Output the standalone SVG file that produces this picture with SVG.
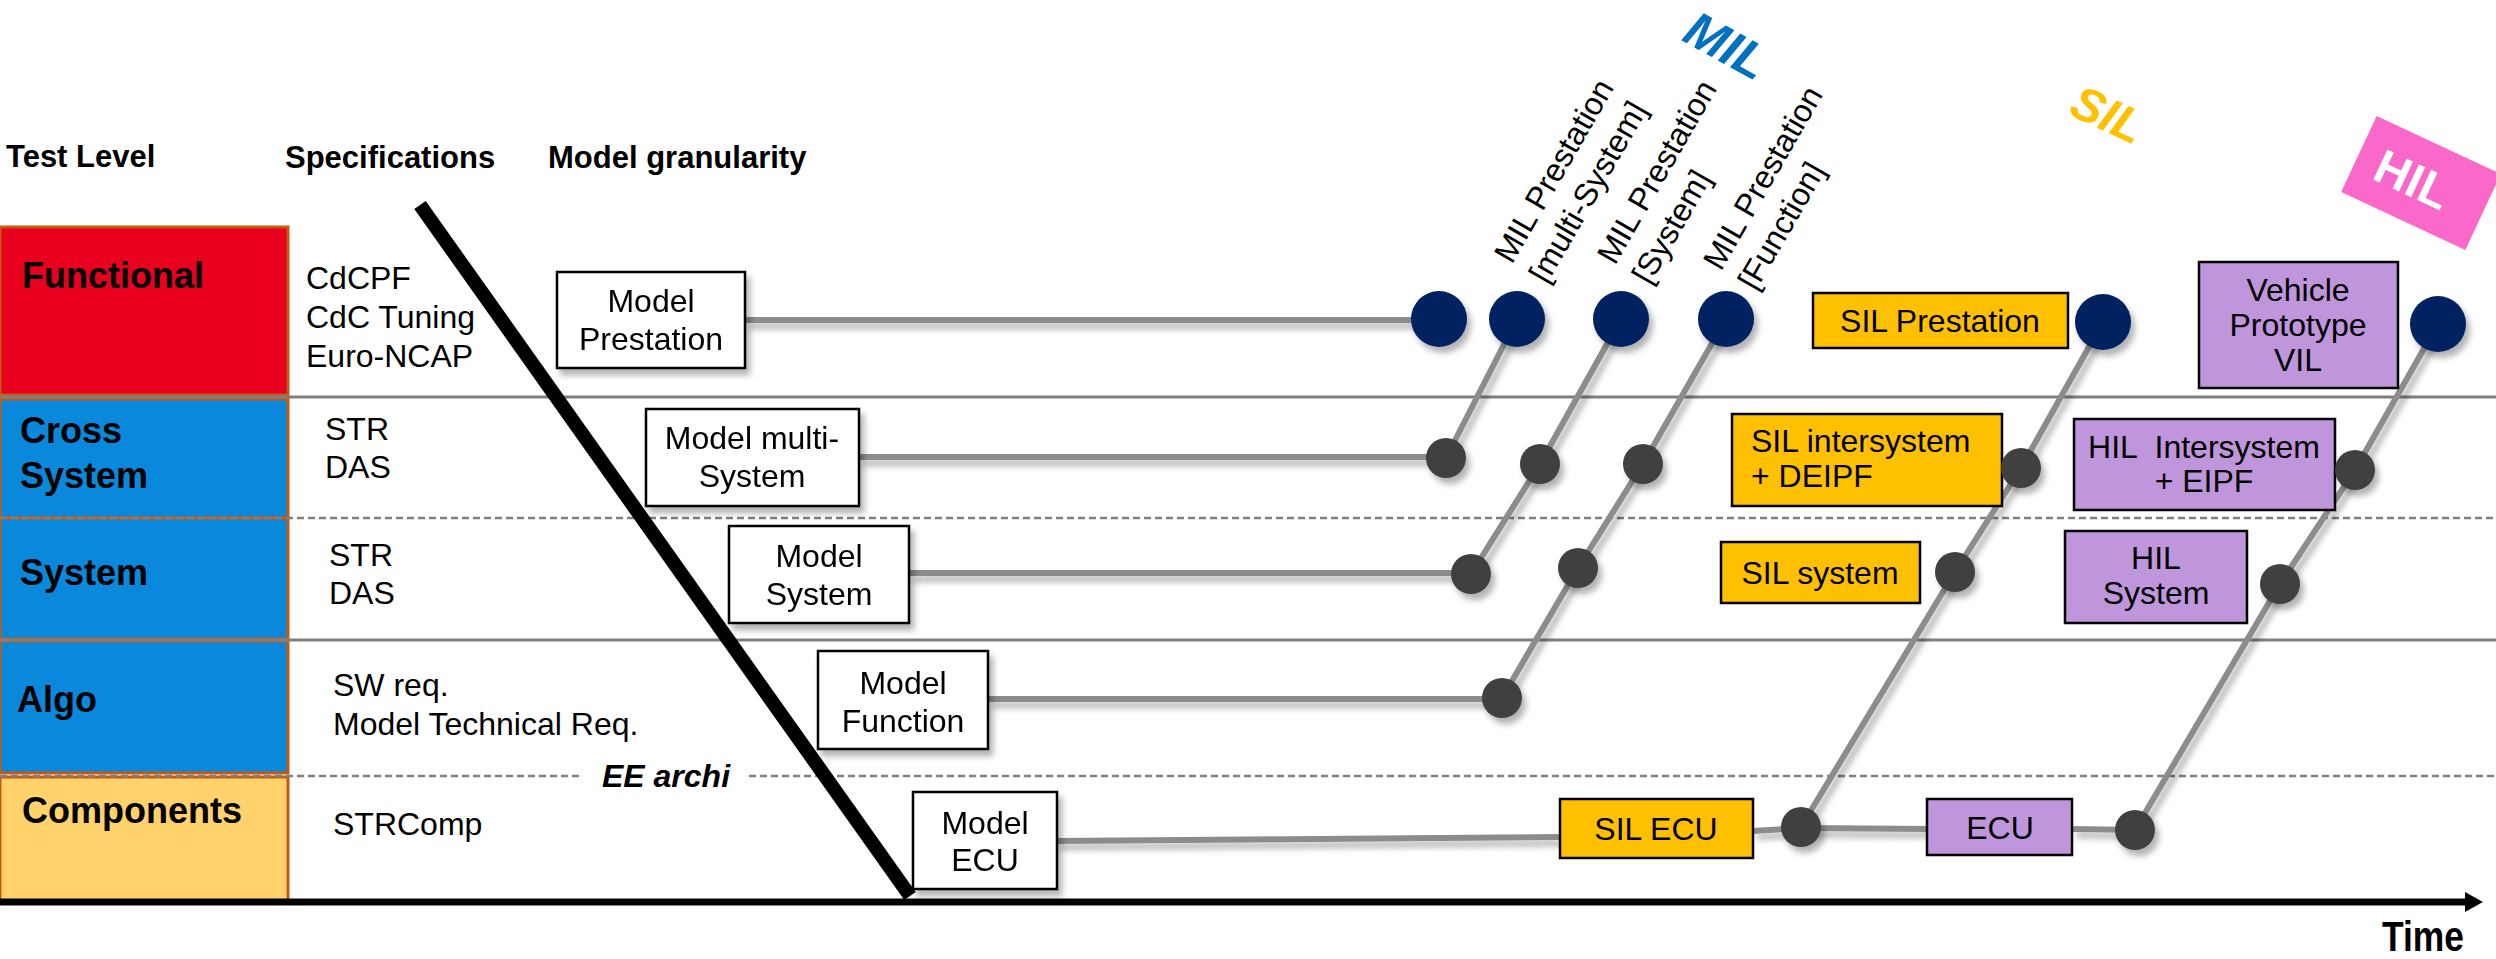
<svg xmlns="http://www.w3.org/2000/svg" width="2496" height="959" viewBox="0 0 2496 959">
<defs>
<style>
text{font-family:"Liberation Sans",Arial,sans-serif;fill:#000}
.hd{font-size:31px;font-weight:bold}
.lv{font-size:36px;font-weight:bold}
.t{font-size:32px}
.c{text-anchor:middle}
.lvbox{stroke:#C55A11;stroke-width:3}
.sep{stroke:#7F7F7F;stroke-width:3;fill:none}
.dash{stroke:#7F7F7F;stroke-width:2.5;stroke-dasharray:7 4;fill:none}
.mb{fill:#fff;stroke:#000;stroke-width:2.5}
.sil{fill:#FFC000;stroke:#000;stroke-width:2.5}
.hil{fill:#BF95DC;stroke:#000;stroke-width:2.5}
.con{stroke:#8C8C8C;stroke-width:6;fill:none;stroke-linejoin:round}
.nv{fill:#002060}
.gd{fill:#404040}
</style>
<filter id="sh" x="-30%" y="-30%" width="160%" height="160%">
<feDropShadow dx="4" dy="6" stdDeviation="3" flood-color="#000" flood-opacity="0.3"/>
</filter>
<marker id="arr" markerWidth="18" markerHeight="20" refX="1" refY="10" orient="auto" markerUnits="userSpaceOnUse">
<path d="M0,0 L18,10 L0,20 Z" fill="#000"/>
</marker>
</defs>
<rect width="2496" height="959" fill="#fff"/>

<g id="headers">
<text class="hd" x="6" y="167">Test Level</text>
<text class="hd" x="285" y="168">Specifications</text>
<text class="hd" x="548" y="168">Model granularity</text>
</g>

<g id="level-functional">
<rect class="lvbox" x="0" y="227" width="288" height="168" fill="#E8001E"/>
<text class="lv" x="22" y="288">Functional</text>
<text class="t" x="306" y="289">CdCPF</text>
<text class="t" x="306" y="328">CdC Tuning</text>
<text class="t" x="306" y="367">Euro-NCAP</text>
</g>
<g id="level-cross-system">
<rect class="lvbox" x="0" y="399" width="288" height="119" fill="#0A88DC"/>
<text class="lv" x="20" y="443">Cross</text>
<text class="lv" x="20" y="488">System</text>
<text class="t" x="325" y="440">STR</text>
<text class="t" x="325" y="478">DAS</text>
</g>
<g id="level-system">
<rect class="lvbox" x="0" y="518" width="288" height="121" fill="#0A88DC"/>
<text class="lv" x="20" y="585">System</text>
<text class="t" x="329" y="566">STR</text>
<text class="t" x="329" y="604">DAS</text>
</g>
<g id="level-algo">
<rect class="lvbox" x="0" y="641" width="288" height="132" fill="#0A88DC"/>
<text class="lv" x="17" y="712">Algo</text>
<text class="t" x="333" y="696">SW req.</text>
<text class="t" x="333" y="735">Model Technical Req.</text>
</g>
<g id="level-components">
<rect class="lvbox" x="0" y="777" width="288" height="124" fill="#FFD26B"/>
<text class="lv" x="22" y="823">Components</text>
<text class="t" x="333" y="835">STRComp</text>
</g>

<g id="separators">
<line class="sep" x1="0" y1="397" x2="2496" y2="397"/>
<line class="dash" x1="0" y1="518" x2="2496" y2="518"/>
<line class="sep" x1="0" y1="640" x2="2496" y2="640"/>
<line class="dash" x1="0" y1="776" x2="579" y2="776"/>
<line class="dash" x1="749" y1="776" x2="2496" y2="776"/>
<text x="666" y="787" font-size="32" font-weight="bold" font-style="italic" text-anchor="middle">EE archi</text>
</g>

<g id="time-axis">
<line x1="0" y1="902" x2="2466" y2="902" stroke="#000" stroke-width="7" marker-end="url(#arr)"/>
<text x="2382" y="951" font-size="42" font-weight="bold" textLength="82" lengthAdjust="spacingAndGlyphs">Time</text>
</g>

<g id="granularity-diagonal">
<line x1="420" y1="205" x2="910" y2="896" stroke="#000" stroke-width="14"/>
</g>

<g id="connectors" filter="url(#sh)">
<path class="con" d="M745,320 H1439"/>
<path class="con" d="M859,457 H1446"/>
<path class="con" d="M909,573 H1471"/>
<path class="con" d="M988,699 H1502"/>
<path class="con" d="M1056,841 L1560,837"/>
<path class="con" d="M1753,831 L1801,828 L1927,829"/>
<path class="con" d="M2072,829 L2135,830"/>
<path class="con" d="M1446,458 L1517,319"/>
<path class="con" d="M1471,574 L1540,464 L1621,319"/>
<path class="con" d="M1502,698 L1578,568 L1643,464 L1726,319"/>
<path class="con" d="M1801,827 L1955,572 L2021,468 L2103,322"/>
<path class="con" d="M2135,830 L2280,584 L2355,470 L2438,324"/>
</g>

<g id="model-prestation" filter="url(#sh)">
<rect class="mb" x="557" y="272" width="188" height="96"/>
<text class="t c" x="651" y="312">Model</text>
<text class="t c" x="651" y="350">Prestation</text>
</g>
<g id="model-multi-system" filter="url(#sh)">
<rect class="mb" x="646" y="409" width="213" height="97"/>
<text class="t c" x="752" y="449">Model multi-</text>
<text class="t c" x="752" y="487">System</text>
</g>
<g id="model-system" filter="url(#sh)">
<rect class="mb" x="729" y="526" width="180" height="97"/>
<text class="t c" x="819" y="567">Model</text>
<text class="t c" x="819" y="605">System</text>
</g>
<g id="model-function" filter="url(#sh)">
<rect class="mb" x="818" y="651" width="170" height="98"/>
<text class="t c" x="903" y="694">Model</text>
<text class="t c" x="903" y="732">Function</text>
</g>
<g id="model-ecu" filter="url(#sh)">
<rect class="mb" x="913" y="792" width="144" height="97"/>
<text class="t c" x="985" y="834">Model</text>
<text class="t c" x="985" y="871">ECU</text>
</g>

<g id="sil-prestation">
<rect class="sil" x="1813" y="293" width="255" height="55"/>
<text class="t c" x="1940" y="332">SIL Prestation</text>
</g>
<g id="sil-intersystem">
<rect class="sil" x="1732" y="414" width="270" height="92"/>
<text class="t" x="1751" y="452">SIL intersystem</text>
<text class="t" x="1751" y="487">+ DEIPF</text>
</g>
<g id="sil-system">
<rect class="sil" x="1721" y="542" width="199" height="61"/>
<text class="t c" x="1820" y="584">SIL system</text>
</g>
<g id="sil-ecu">
<rect class="sil" x="1560" y="799" width="193" height="59"/>
<text class="t c" x="1656" y="840">SIL ECU</text>
</g>
<g id="vehicle-prototype">
<rect class="hil" x="2199" y="262" width="199" height="126"/>
<text class="t c" x="2298" y="301">Vehicle</text>
<text class="t c" x="2298" y="336">Prototype</text>
<text class="t c" x="2298" y="371">VIL</text>
</g>
<g id="hil-intersystem">
<rect class="hil" x="2074" y="419" width="261" height="91"/>
<text class="t c" x="2204" y="458" xml:space="preserve">HIL  Intersystem</text>
<text class="t c" x="2204" y="492">+ EIPF</text>
</g>
<g id="hil-system">
<rect class="hil" x="2065" y="531" width="182" height="92"/>
<text class="t c" x="2156" y="569">HIL</text>
<text class="t c" x="2156" y="604">System</text>
</g>
<g id="ecu">
<rect class="hil" x="1927" y="799" width="145" height="56"/>
<text class="t c" x="2000" y="839">ECU</text>
</g>

<g id="milestones" filter="url(#sh)">
<circle id="p-func-1" class="nv" cx="1439" cy="319" r="28"/>
<circle id="p-func-2" class="nv" cx="1517" cy="319" r="28"/>
<circle id="p-func-3" class="nv" cx="1621" cy="319" r="28"/>
<circle id="p-func-4" class="nv" cx="1726" cy="319" r="28"/>
<circle id="p-func-5" class="nv" cx="2103" cy="322" r="28"/>
<circle id="p-func-6" class="nv" cx="2438" cy="324" r="28"/>
<circle id="p-cross-1" class="gd" cx="1446" cy="458" r="20"/>
<circle id="p-cross-2" class="gd" cx="1540" cy="464" r="20"/>
<circle id="p-cross-3" class="gd" cx="1643" cy="464" r="20"/>
<circle id="p-cross-4" class="gd" cx="2021" cy="468" r="20"/>
<circle id="p-cross-5" class="gd" cx="2355" cy="470" r="20"/>
<circle id="p-sys-1" class="gd" cx="1471" cy="574" r="20"/>
<circle id="p-sys-2" class="gd" cx="1578" cy="568" r="20"/>
<circle id="p-sys-3" class="gd" cx="1955" cy="572" r="20"/>
<circle id="p-sys-4" class="gd" cx="2280" cy="584" r="20"/>
<circle id="p-algo-1" class="gd" cx="1502" cy="698" r="20"/>
<circle id="p-comp-1" class="gd" cx="1801" cy="827" r="20"/>
<circle id="p-comp-2" class="gd" cx="2135" cy="830" r="20"/>
</g>

<g id="mil-labels">
<g transform="translate(1512,265) rotate(-60)">
<text class="t" x="0" y="0">MIL Prestation</text>
<text class="t" x="0" y="40">[multi-System]</text>
</g>
<g transform="translate(1615,266) rotate(-60)">
<text class="t" x="0" y="0">MIL Prestation</text>
<text class="t" x="0" y="40">[System]</text>
</g>
<g transform="translate(1721,272) rotate(-60)">
<text class="t" x="0" y="0">MIL Prestation</text>
<text class="t" x="0" y="40">[Function]</text>
</g>
</g>

<g id="phase-mil" transform="translate(1727,45) rotate(29)">
<text x="0" y="18" font-size="50" font-weight="bold" font-style="italic" text-anchor="middle" style="fill:#0070C0">MIL</text>
</g>
<g id="phase-sil" transform="translate(2108,114) rotate(25)">
<text x="0" y="17" font-size="48" font-weight="bold" font-style="italic" text-anchor="middle" style="fill:#FFC000">SIL</text>
</g>
<g id="phase-hil" transform="translate(2421,183) rotate(25)">
<rect x="-68.5" y="-42" width="137" height="84" fill="#FA69CA"/>
<text x="-9" y="17" font-size="48" font-weight="bold" text-anchor="middle" style="fill:#fff">HIL</text>
</g>
</svg>
